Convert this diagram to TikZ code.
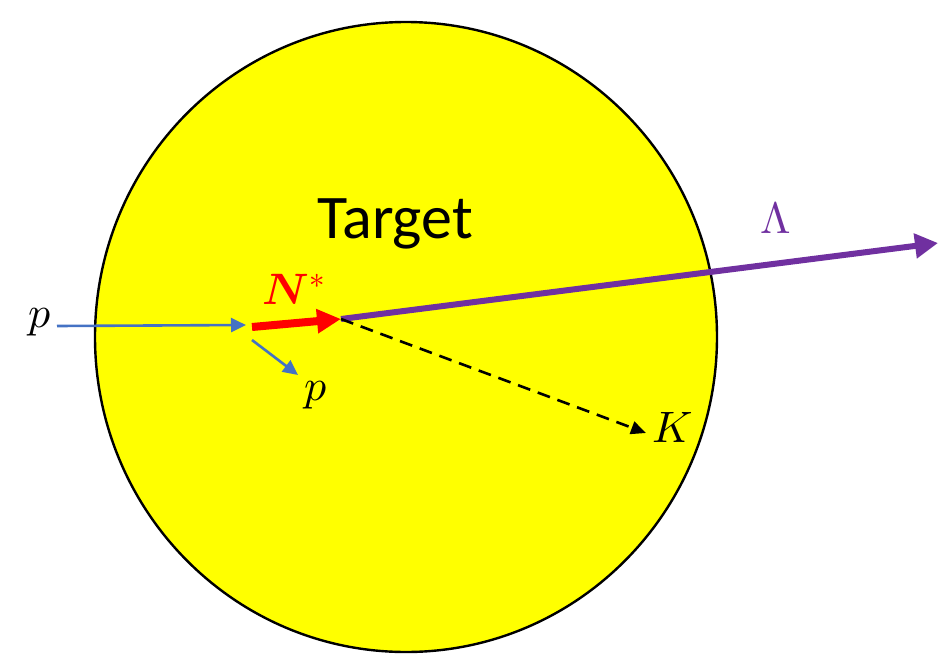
\documentclass[tikz,border=0pt]{standalone}
\usepackage{fontspec}
\usepackage{unicode-math}
\setmainfont{Carlito}
\setmathfont{Latin Modern Math}
\usetikzlibrary{arrows.meta}

\tikzset{
  bigmath/.style={font=\fontsize{44}{48}\selectfont},
}
\definecolor{targetyellow}{RGB}{255,255,0}
\definecolor{lampurple}{RGB}{112,48,160}
\definecolor{pblue}{RGB}{68,114,196}

\begin{document}
\begin{tikzpicture}[x=1pt, y=-1pt]
  \useasboundingbox (0,0) rectangle (946,654);

  % Target nucleus
  \draw[line width=2.4pt, fill=targetyellow] (406,337) ellipse [x radius=311, y radius=315];
  \node[font=\fontsize{62}{66}\selectfont] (target) at (395,224) {Target};

  % Points of the reaction
  \coordinate (pin) at (57,326);
  \coordinate (hit) at (246,325);
  \coordinate (Nstart) at (252,327);
  \coordinate (V) at (341,319);   % decay vertex
  \coordinate (Lend) at (938,243);
  \coordinate (pout0) at (252,340);
  \coordinate (pout) at (298,375);
  \coordinate (Kend) at (646,433);

  % Incoming proton
  \draw[line width=2.6pt, pblue, -{Triangle[length=15pt,width=14pt]}] (pin) -- (hit);
  % Scattered proton
  \draw[line width=2.6pt, pblue, -{Triangle[length=15pt,width=14pt]}] (pout0) -- (pout);
  % Resonance
  \draw[line width=8pt, red, -{Triangle[length=24pt,width=23pt]}] (Nstart) -- (V);
  % Lambda
  \draw[line width=6pt, lampurple, -{Triangle[length=23pt,width=24pt]}] (V) -- (Lend);
  % Kaon
  \draw[line width=2.6pt, dash pattern=on 13pt off 8pt, -{Triangle[length=15pt,width=13pt]}] (V) -- (Kend);

  % Labels
  \node[bigmath] (plabel) at (40,322) {$p$};
  \node[bigmath] (p2label) at (316,395) {$p$};
  \node[bigmath, text=red] (Nlabel) at (294,289) {$\symbfit{N}^{\symbf{*}}$};
  \node[bigmath, text=lampurple] (Llabel) at (776,218) {$\mupLambda$};
  \node[bigmath] (Klabel) at (673,427) {$K$};
\end{tikzpicture}
\end{document}
